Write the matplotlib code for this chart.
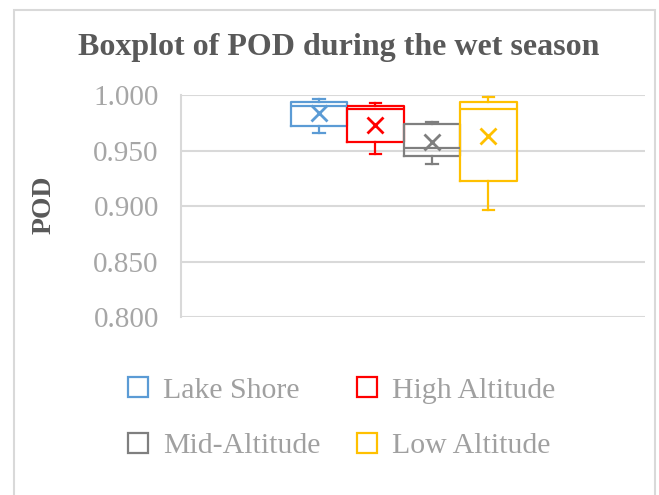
import matplotlib
matplotlib.use("Agg")
import matplotlib.pyplot as plt
from matplotlib.lines import Line2D
from matplotlib.patches import Rectangle

plt.rcParams['font.family'] = ['Liberation Serif', 'DejaVu Serif']

# five-number summaries plus mean for each site group
groups = ["Lake Shore", "High Altitude", "Mid-Altitude", "Low Altitude"]
whis_low = [0.966, 0.947, 0.938, 0.897]
q1 = [0.972, 0.958, 0.945, 0.923]
medians = [0.990, 0.987, 0.952, 0.987]
q3 = [0.994, 0.990, 0.974, 0.994]
whis_high = [0.996, 0.993, 0.976, 0.998]
means = [0.984, 0.973, 0.958, 0.963]
colors = ["#5B9BD5", "#FF0000", "#7F7F7F", "#FFC000"]

yticks = [0.800, 0.850, 0.900, 0.950, 1.000]

fig = plt.figure(figsize=(6.59, 4.95), dpi=100)
ax = fig.add_axes([0.2747, 0.3586, 0.7041, 0.4495])

for i, name in enumerate(groups):
    stats = [{
        "label": name,
        "whislo": whis_low[i], "q1": q1[i], "med": medians[i],
        "q3": q3[i], "whishi": whis_high[i], "mean": means[i],
        "fliers": [],
    }]
    c = colors[i]
    ax.bxp(stats, positions=[i], widths=1.0, showmeans=True,
           patch_artist=False, manage_ticks=False,
           boxprops=dict(color=c, linewidth=1.6),
           medianprops=dict(color=c, linewidth=1.6),
           whiskerprops=dict(color=c, linewidth=1.6),
           capprops=dict(color=c, linewidth=1.6),
           capwidths=0.2,
           meanprops=dict(marker="x", markeredgecolor=c, markersize=11,
                          markeredgewidth=2, linestyle="none"))

ax.set_xlim(-2.44, 5.77)
ax.set_ylim(0.8, 1.0)
ax.set_yticks(yticks)
ax.set_yticklabels([f"{v:.3f}" for v in yticks])
ax.set_xticks([])
ax.tick_params(axis="y", length=0, pad=16, labelsize=21, labelcolor="#A6A6A6")
ax.grid(axis="y", color="#D9D9D9", linewidth=1.5)
ax.set_axisbelow(True)
for side in ("top", "right", "bottom"):
    ax.spines[side].set_visible(False)
ax.spines["left"].set_color("#D9D9D9")
ax.spines["left"].set_linewidth(1.5)

fig.text(44 / 659, 1 - 205 / 495, "POD", rotation=90, ha="center", va="center",
         fontsize=20, fontweight="bold", color="#595959")
fig.text(339 / 659, 1 - 48 / 495, "Boxplot of POD during the wet season",
         ha="center", va="center", fontsize=23, fontweight="bold", color="#595959")

# legend fills row by row: Lake Shore, High Altitude / Mid-Altitude, Low Altitude
order = [0, 2, 1, 3]
handles = [Line2D([], [], marker="s", linestyle="none", markersize=15,
                  markerfacecolor="none", markeredgecolor=colors[k],
                  markeredgewidth=1.6) for k in order]
fig.legend(handles, [groups[k] for k in order], ncol=2, loc="upper left",
           bbox_to_anchor=(108 / 659, 1 - 362 / 495), frameon=False,
           fontsize=21.5, labelcolor="#A0A0A0", handlelength=1.0,
           handletextpad=0.35, columnspacing=1.05, labelspacing=0.95,
           borderpad=0)

# light outer frame of the chart area
fig.patches.append(Rectangle((14 / 659, -0.1), 641 / 659, 1.1 - 10 / 495,
                             transform=fig.transFigure, fill=False,
                             edgecolor="#D9D9D9", linewidth=1.5))

fig.savefig("out.png", dpi=100)
